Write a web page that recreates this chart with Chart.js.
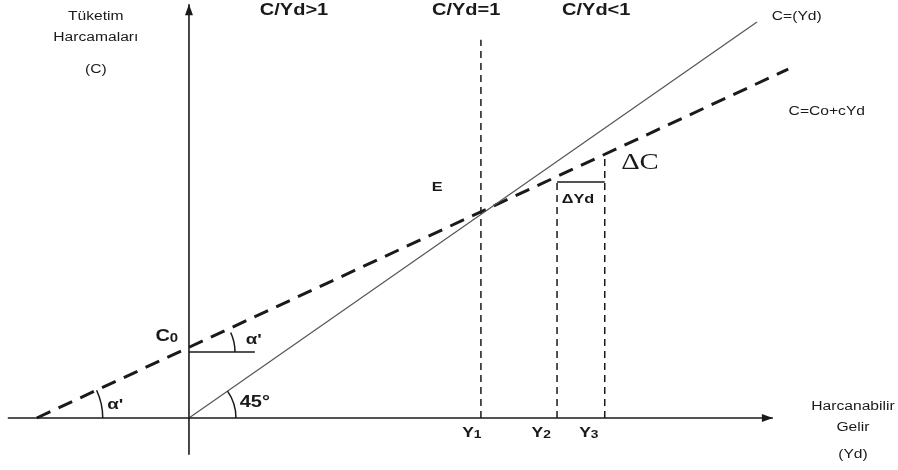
<!DOCTYPE html>
<html lang="tr">
<head>
<meta charset="utf-8">
<title>Tüketim Fonksiyonu</title>
<script src="https://cdn.jsdelivr.net/npm/chart.js@4.4.1/dist/chart.umd.min.js"></script>
<style>
  html, body { margin: 0; padding: 0; background: #ffffff; }
  #chart-wrap { width: 898px; height: 470px; }
</style>
</head>
<body>
<div id="chart-wrap"><canvas id="chart-consumption" width="898" height="470"></canvas></div>
<script>
// ============================================================================
// DATA (Yd / C units)
// ============================================================================

const axisYdRange = [-31.9, 102.8];        // horizontal axis, arrow at the right end
const axisCRange = [-9.3, 104.5];          // vertical axis, arrow at the top
const incomeLine = [[0, 0], [100, 100]];   // C = Yd (45 degrees)
const consumptionLine = [[-26.8, 0], [105.5, 88.1]]; // C = Co + cYd
const autonomousC = 16.7;                  // C0
const autonomousBarEnd = 11.6;
const incomeTickLabels = ['Y', 'Y', 'Y'];
const incomeTickSubs = ['1', '2', '3'];
const incomeTickValues = [51.4, 64.8, 73.2];
const guideTops = [95.5, 59.6, 65.5];
const deltaYdLevel = 59.6;

// ============================================================================
// STYLE / LAYOUT
// ============================================================================

const INK = '#1a1a1a';
const TEXT_STRETCH = 1.25;
const SANS = '"Liberation Sans", Arial, sans-serif';
const SERIF = '"Liberation Serif", "Times New Roman", serif';

const labels = [
  { text: 'Tüketim', x: -16.4, y: 101.3, font: `12.5px ${SANS}` },
  { text: 'Harcamaları', x: -16.4, y: 96.0, font: `12.5px ${SANS}` },
  { text: '(C)', x: -16.4, y: 87.9, font: `12.5px ${SANS}` },
  { text: 'C/Yd>1', x: 18.5, y: 102.8, font: `bold 16px ${SANS}` },
  { text: 'C/Yd=1', x: 48.8, y: 103.0, font: `bold 16px ${SANS}` },
  { text: 'C/Yd<1', x: 71.7, y: 102.8, font: `bold 16px ${SANS}` },
  { text: 'C=(Yd)', x: 107.0, y: 101.3, font: `12.5px ${SANS}` },
  { text: 'C=Co+cYd', x: 112.3, y: 77.5, font: `12.5px ${SANS}` },
  { text: 'ΔC', x: 79.4, y: 64.4, font: `23px ${SERIF}` },
  { text: 'E', x: 43.7, y: 58.3, font: `bold 13px ${SANS}` },
  { text: 'ΔYd', x: 68.5, y: 55.3, font: `bold 13px ${SANS}` },
  { text: 'C', sub: '0', x: -3.9, y: 20.5, font: `bold 16px ${SANS}`, subFont: `bold 12px ${SANS}` },
  { text: "α'", x: 11.4, y: 19.7, font: `bold 15px ${SANS}` },
  { text: "α'", x: -13.0, y: 3.3, font: `bold 15px ${SANS}` },
  { text: '45°', x: 11.6, y: 3.8, font: `bold 16px ${SANS}` },
  { text: 'Harcanabilir', x: 116.9, y: 3.0, font: `12.5px ${SANS}` },
  { text: 'Gelir', x: 116.9, y: -2.3, font: `12.5px ${SANS}` },
  { text: '(Yd)', x: 116.9, y: -9.3, font: `12.5px ${SANS}` }
];

incomeTickLabels.forEach((t, i) => {
  labels.push({
    text: t, sub: incomeTickSubs[i],
    x: incomeTickValues[i] - 1.6 + (i === 0 ? 0 : -1.2), y: -3.8,
    font: `bold 14px ${SANS}`, subFont: `bold 11px ${SANS}`
  });
});

// ============================================================================
// DATASETS
// ============================================================================

function _pts(pairs) {
  return pairs.map(p => ({ x: p[0], y: p[1] }));
}

function _lineSet(data, width, dash, color) {
  return {
    data: data,
    borderColor: color || INK,
    borderWidth: width,
    borderDash: dash || [],
    pointRadius: 0,
    fill: false,
    tension: 0
  };
}

const datasets = [
  _lineSet(_pts([[axisYdRange[0], 0], [axisYdRange[1], 0]]), 1.6),
  _lineSet(_pts([[0, axisCRange[0]], [0, axisCRange[1]]]), 1.6),
  _lineSet(_pts(incomeLine), 1.2, [], '#555555'),
  _lineSet(_pts(consumptionLine), 3, [15, 9]),
  _lineSet(_pts([[0, autonomousC], [autonomousBarEnd, autonomousC]]), 1.5),
  _lineSet(_pts([[incomeTickValues[1], deltaYdLevel], [incomeTickValues[2], deltaYdLevel]]), 1.5)
];

incomeTickValues.forEach((v, i) => {
  datasets.push(_lineSet(_pts([[v, 0], [v, guideTops[i]]]), 1.5, [7, 5]));
});

// ============================================================================
// PLUGINS (arrowheads, angle arcs, text)
// ============================================================================

const decorPlugin = {
  id: 'decor',
  afterDatasetsDraw(chart) {
    const { ctx, scales: { x, y } } = chart;
    ctx.save();
    ctx.fillStyle = INK;
    ctx.strokeStyle = INK;

    // arrowheads
    const ax = x.getPixelForValue(axisYdRange[1]);
    const ay = y.getPixelForValue(0);
    ctx.beginPath();
    ctx.moveTo(ax, ay);
    ctx.lineTo(ax - 11, ay - 4);
    ctx.lineTo(ax - 11, ay + 4);
    ctx.closePath();
    ctx.fill();

    const bx = x.getPixelForValue(0);
    const by = y.getPixelForValue(axisCRange[1]);
    ctx.beginPath();
    ctx.moveTo(bx, by);
    ctx.lineTo(bx - 4, by + 11);
    ctx.lineTo(bx + 4, by + 11);
    ctx.closePath();
    ctx.fill();

    // angle arcs
    const _angle = (line) => {
      const dx = x.getPixelForValue(line[1][0]) - x.getPixelForValue(line[0][0]);
      const dy = y.getPixelForValue(line[1][1]) - y.getPixelForValue(line[0][1]);
      return Math.atan2(dy, dx);
    };
    const arcs = [
      { cx: 0, cy: 0, r: 47, a: _angle(incomeLine) },
      { cx: 0, cy: autonomousC, r: 46, a: _angle(consumptionLine) },
      { cx: consumptionLine[0][0], cy: consumptionLine[0][1], r: 66, a: _angle(consumptionLine) }
    ];
    ctx.lineWidth = 1.5;
    arcs.forEach(a => {
      ctx.beginPath();
      ctx.arc(x.getPixelForValue(a.cx), y.getPixelForValue(a.cy), a.r, a.a, 0);
      ctx.stroke();
    });

    // text
    ctx.textBaseline = 'middle';
    labels.forEach(l => {
      const px = x.getPixelForValue(l.x);
      const py = y.getPixelForValue(l.y);
      ctx.font = l.font;
      const w1 = ctx.measureText(l.text).width;
      let w2 = 0;
      if (l.sub) {
        ctx.font = l.subFont;
        w2 = ctx.measureText(l.sub).width;
      }
      ctx.save();
      ctx.translate(px, py);
      ctx.scale(TEXT_STRETCH, 1);
      ctx.textAlign = 'left';
      const start = -(w1 + w2) / 2;
      ctx.font = l.font;
      ctx.fillText(l.text, start, 0);
      if (l.sub) {
        ctx.font = l.subFont;
        ctx.fillText(l.sub, start + w1, 2);
      }
      ctx.restore();
    });
    ctx.restore();
  }
};

// ============================================================================
// CHART
// ============================================================================

const ctx = document.getElementById('chart-consumption').getContext('2d');
new Chart(ctx, {
  type: 'line',
  data: { datasets: datasets },
  options: {
    responsive: false,
    animation: false,
    layout: { padding: 0 },
    plugins: { legend: { display: false }, tooltip: { enabled: false } },
    scales: {
      x: { type: 'linear', min: -33.27, max: 124.83, display: false },
      y: { type: 'linear', min: -13.13, max: 105.56, display: false }
    }
  },
  plugins: [decorPlugin]
});
</script>
</body>
</html>
